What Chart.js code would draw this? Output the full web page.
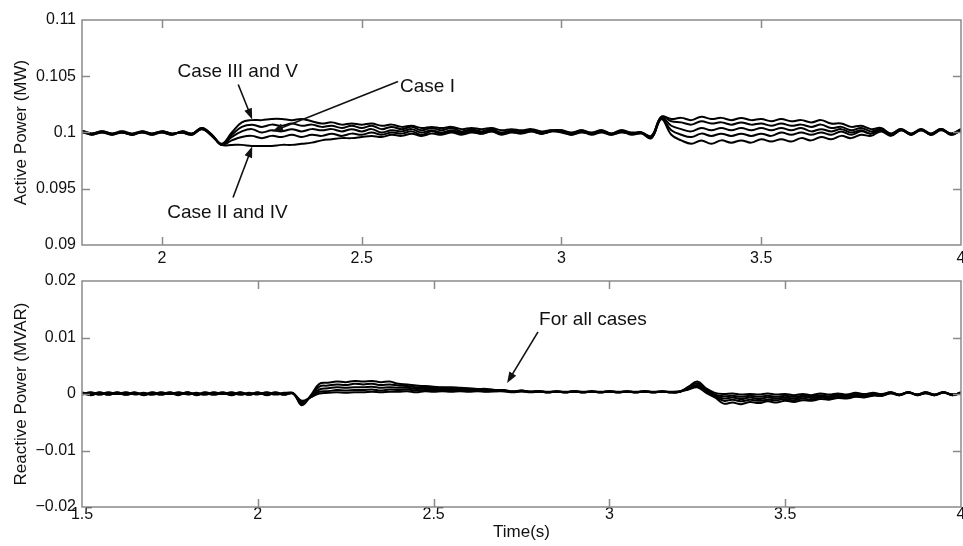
<!DOCTYPE html>
<html>
<head>
<meta charset="utf-8">
<script src="https://cdn.jsdelivr.net/npm/chart.js@4.4.1/dist/chart.umd.min.js"></script>
<style>
  html, body { margin: 0; padding: 0; background: #fff; }
  #wrap { position: relative; width: 963px; height: 546px; overflow: hidden; }
  canvas { position: absolute; left: 0; }
  #activeChart { top: 0; }
  #reactiveChart { top: 270px; }
</style>
</head>
<body>
<div id="wrap">
  <canvas id="activeChart" width="963" height="270"></canvas>
  <canvas id="reactiveChart" width="963" height="276"></canvas>
</div>
<script>
// sample times (s)
const time = [
  1.5,1.525,1.55,1.575,1.6,1.625,1.65,1.675,1.7,1.725,1.75,1.775,1.8,1.825,1.85,1.875,1.9,1.925,1.95,1.975,
  2,2.025,2.05,2.075,2.1,2.125,2.15,2.175,2.2,2.225,2.25,2.275,2.3,2.325,2.35,2.375,2.4,2.425,2.45,2.475,
  2.5,2.525,2.55,2.575,2.6,2.625,2.65,2.675,2.7,2.725,2.75,2.775,2.8,2.825,2.85,2.875,2.9,2.925,2.95,2.975,
  3,3.025,3.05,3.075,3.1,3.125,3.15,3.175,3.2,3.225,3.25,3.275,3.3,3.325,3.35,3.375,3.4,3.425,3.45,3.475,
  3.5,3.525,3.55,3.575,3.6,3.625,3.65,3.675,3.7,3.725,3.75,3.775,3.8,3.825,3.85,3.875,3.9,3.925,3.95,3.975,
  4
];

// active power (MW), one array per simulated case, top to bottom
const activeA = [
  0.1001,0.0999,0.1001,0.0999,0.1,0.0998,0.1001,0.0999,0.1001,0.0999,0.1,0.0998,0.1001,0.0999,0.1001,0.0998,0.1,0.0999,0.1001,0.0999,
  0.1001,0.0999,0.1,0.0999,0.1004,0.0998,0.099,0.1,0.1009,0.1011,0.1011,0.1012,0.1012,0.1011,0.1012,0.101,0.1008,0.1009,0.1007,0.1008,
  0.1007,0.1008,0.1006,0.1007,0.1005,0.1006,0.1004,0.1005,0.1004,0.1005,0.1003,0.1004,0.1003,0.1004,0.1002,0.1003,0.1002,0.1003,0.1001,0.1002,
  0.1002,0.1,0.1002,0.1,0.1002,0.0999,0.1002,0.1,0.1,0.0997,0.1014,0.1012,0.1013,0.1011,0.1014,0.1012,0.1013,0.1011,0.1013,0.1011,
  0.1012,0.101,0.1012,0.101,0.1011,0.1009,0.1011,0.1008,0.1008,0.1005,0.1006,0.1003,0.1004,0.0999,0.1003,0.0999,0.1003,0.0999,0.1003,0.0999,
  0.1003
];
const activeB = [
  0.1,0.0998,0.1,0.0998,0.1001,0.0999,0.1,0.0998,0.1,0.0998,0.1001,0.0999,0.1,0.0998,0.1,0.0999,0.1001,0.0998,0.1,0.0998,
  0.1,0.0998,0.1001,0.0999,0.1004,0.0998,0.0989,0.0998,0.1005,0.1007,0.1005,0.1007,0.1006,0.1008,0.1006,0.1007,0.1005,0.1006,0.1004,0.1006,
  0.1004,0.1006,0.1003,0.1005,0.1003,0.1005,0.1002,0.1004,0.1002,0.1004,0.1001,0.1003,0.1001,0.1003,0.1,0.1002,0.1001,0.1002,0.1,0.1002,
  0.1001,0.0999,0.1001,0.0999,0.1001,0.0999,0.1001,0.0999,0.1,0.0996,0.1014,0.101,0.1009,0.1007,0.101,0.1008,0.1009,0.1007,0.1009,0.1007,
  0.1008,0.1006,0.1008,0.1006,0.1007,0.1005,0.1007,0.1004,0.1005,0.1002,0.1004,0.1001,0.1003,0.0999,0.1003,0.0998,0.1003,0.0998,0.1003,0.0999,
  0.1002
];
const activeC = [
  0.1001,0.0998,0.1001,0.0998,0.1,0.0999,0.1001,0.0998,0.1001,0.0998,0.1,0.0999,0.1001,0.0998,0.1001,0.0999,0.1,0.0998,0.1001,0.0998,
  0.1001,0.0999,0.1,0.0998,0.1003,0.0998,0.0989,0.0996,0.1001,0.1003,0.1,0.1002,0.1001,0.1003,0.1001,0.1003,0.1002,0.1003,0.1001,0.1003,
  0.1001,0.1003,0.1,0.1002,0.1001,0.1003,0.1,0.1002,0.1,0.1002,0.1,0.1002,0.1,0.1002,0.0999,0.1001,0.1,0.1002,0.0999,0.1001,
  0.1002,0.0999,0.1002,0.0999,0.1002,0.0999,0.1002,0.0999,0.1,0.0996,0.1013,0.1006,0.1003,0.1001,0.1004,0.1002,0.1004,0.1002,0.1004,0.1002,
  0.1004,0.1002,0.1004,0.1002,0.1004,0.1001,0.1003,0.1001,0.1003,0.1,0.1002,0.0999,0.1003,0.0998,0.1002,0.0999,0.1002,0.0999,0.1003,0.0998,
  0.1002
];
const activeD = [
  0.1,0.0999,0.1,0.0999,0.1001,0.0998,0.1,0.0999,0.1,0.0999,0.1001,0.0998,0.1,0.0999,0.1,0.0998,0.1001,0.0999,0.1,0.0999,
  0.1,0.0998,0.1001,0.0999,0.1003,0.0997,0.0989,0.0993,0.0996,0.0997,0.0995,0.0997,0.0996,0.0998,0.0996,0.0998,0.0997,0.0999,0.0997,0.0999,
  0.0998,0.1,0.0998,0.1,0.0999,0.1001,0.0998,0.1001,0.0999,0.1001,0.0999,0.1001,0.0999,0.1001,0.0999,0.1001,0.1,0.1001,0.0999,0.1001,
  0.1,0.0998,0.1001,0.0998,0.1,0.0998,0.1001,0.0998,0.0999,0.0995,0.1012,0.1002,0.0998,0.0996,0.0999,0.0997,0.0999,0.0997,0.0999,0.0997,
  0.0999,0.0997,0.1,0.0998,0.1,0.0998,0.1,0.0998,0.1001,0.0998,0.1001,0.0999,0.1002,0.0998,0.1003,0.0998,0.1003,0.0998,0.1002,0.0999,
  0.1003
];
const activeE = [
  0.1001,0.0999,0.1001,0.0999,0.1,0.0998,0.1001,0.0999,0.1001,0.0999,0.1,0.0998,0.1001,0.0999,0.1001,0.0999,0.1,0.0998,0.1001,0.0999,
  0.1001,0.0999,0.1,0.0998,0.1003,0.0997,0.0989,0.0989,0.0989,0.0988,0.0988,0.0988,0.0989,0.0989,0.099,0.0991,0.0993,0.0994,0.0995,0.0995,
  0.0996,0.0997,0.0996,0.0998,0.0997,0.0999,0.0997,0.0999,0.0998,0.1,0.0998,0.1,0.0999,0.1001,0.0998,0.1,0.0999,0.1001,0.0999,0.1001,
  0.1001,0.0998,0.1,0.0999,0.1001,0.0998,0.1,0.0999,0.1,0.0995,0.1012,0.0998,0.0993,0.099,0.0993,0.099,0.0993,0.0991,0.0993,0.0991,
  0.0994,0.0992,0.0994,0.0992,0.0995,0.0993,0.0996,0.0994,0.0997,0.0995,0.0998,0.0997,0.1001,0.0997,0.1002,0.0998,0.1002,0.0998,0.1003,0.0998,
  0.1002
];

// reactive power (MVAR), one array per case
const reactA = [
  0.0003,-0.0001,0.0003,-0.0001,0.0003,-0.0001,0.0002,-0.0001,0.0003,0,0.0003,-0.0001,0.0003,-0.0001,0.0003,0,0.0003,-0.0001,0.0003,-0.0001,
  0.0002,-0.0001,0.0003,-0.0001,0.0002,-0.002,-0.0003,0.0018,0.002,0.0022,0.0021,0.0023,0.0022,0.0023,0.0021,0.0022,0.0018,0.0017,0.0015,0.0014,
  0.0013,0.0012,0.0012,0.0011,0.001,0.0009,0.0009,0.0007,0.0007,0.0005,0.0006,0.0004,0.0005,0.0003,0.0005,0.0003,0.0005,0.0003,0.0005,0.0003,
  0.0005,0.0003,0.0005,0.0003,0.0005,0.0003,0.0005,0.0003,0.0004,0.0013,0.0022,0.001,0.0002,0,0.0001,-0.0001,0,-0.0001,0.0001,-0.0001,
  0,-0.0002,0,-0.0002,0.0001,-0.0001,0.0001,-0.0001,0.0002,0,0.0002,0,0.0003,-0.0001,0.0003,-0.0001,0.0003,-0.0001,0.0003,-0.0001,
  0.0002
];
const reactB = [
  0.0002,-0.0002,0.0002,-0.0001,0.0002,-0.0001,0.0003,-0.0002,0.0002,-0.0001,0.0002,-0.0002,0.0003,-0.0002,0.0002,-0.0001,0.0002,-0.0002,0.0002,-0.0001,
  0.0003,-0.0002,0.0002,-0.0001,0.0001,-0.0018,-0.0004,0.0013,0.0015,0.0017,0.0016,0.0018,0.0017,0.0018,0.0016,0.0017,0.0015,0.0014,0.0012,0.0012,
  0.0011,0.0011,0.001,0.001,0.0009,0.0008,0.0008,0.0007,0.0006,0.0004,0.0006,0.0004,0.0004,0.0003,0.0005,0.0003,0.0004,0.0003,0.0005,0.0003,
  0.0004,0.0003,0.0005,0.0003,0.0004,0.0003,0.0005,0.0003,0.0004,0.0012,0.0019,0.0008,-0.0001,-0.0004,-0.0003,-0.0005,-0.0003,-0.0005,-0.0003,-0.0005,
  -0.0003,-0.0005,-0.0003,-0.0004,-0.0002,-0.0004,-0.0001,-0.0003,0,-0.0002,0.0001,-0.0001,0.0003,-0.0002,0.0003,-0.0001,0.0003,-0.0002,0.0003,-0.0001,
  0.0002
];
const reactC = [
  -0.0001,0.0003,-0.0001,0.0003,0,0.0003,-0.0001,0.0002,-0.0001,0.0003,0,0.0003,-0.0001,0.0002,-0.0001,0.0003,0,0.0003,-0.0001,0.0002,
  -0.0001,0.0003,0,0.0002,0.0001,-0.0016,-0.0005,0.0008,0.001,0.0012,0.0011,0.0012,0.0012,0.0013,0.0011,0.0012,0.0011,0.0011,0.0009,0.001,
  0.0009,0.0009,0.0008,0.0008,0.0007,0.0007,0.0006,0.0006,0.0006,0.0004,0.0005,0.0004,0.0005,0.0004,0.0004,0.0003,0.0005,0.0004,0.0004,0.0003,
  0.0005,0.0004,0.0004,0.0003,0.0005,0.0004,0.0004,0.0003,0.0004,0.001,0.0016,0.0006,-0.0003,-0.0008,-0.0006,-0.0009,-0.0006,-0.0009,-0.0006,-0.0008,
  -0.0006,-0.0008,-0.0005,-0.0007,-0.0004,-0.0006,-0.0003,-0.0005,-0.0002,-0.0004,-0.0001,-0.0002,0.0002,-0.0002,0.0003,-0.0002,0.0002,-0.0002,0.0003,-0.0002,
  0.0002
];
const reactD = [
  0.0001,-0.0001,0.0002,-0.0001,0.0002,-0.0001,0.0001,-0.0001,0.0001,-0.0001,0.0002,0,0.0002,-0.0001,0.0001,-0.0001,0.0001,0,0.0002,-0.0001,
  0.0002,-0.0001,0.0001,-0.0001,0.0001,-0.0014,-0.0006,0.0004,0.0005,0.0007,0.0006,0.0007,0.0007,0.0008,0.0006,0.0008,0.0007,0.0008,0.0006,0.0007,
  0.0007,0.0007,0.0006,0.0006,0.0006,0.0006,0.0005,0.0005,0.0005,0.0004,0.0005,0.0003,0.0004,0.0003,0.0004,0.0004,0.0004,0.0003,0.0004,0.0004,
  0.0004,0.0003,0.0004,0.0004,0.0004,0.0003,0.0004,0.0004,0.0005,0.0009,0.0014,0.0004,-0.0004,-0.0012,-0.001,-0.0013,-0.001,-0.0012,-0.001,-0.0011,
  -0.0009,-0.0011,-0.0008,-0.001,-0.0006,-0.0008,-0.0005,-0.0007,-0.0004,-0.0005,-0.0002,-0.0003,0.0002,-0.0001,0.0003,-0.0002,0.0002,-0.0001,0.0003,-0.0002,
  0.0003
];
const reactE = [
  0,0.0002,-0.0001,0.0002,0,0.0002,0,0.0001,-0.0001,0.0002,0,0.0002,0,0.0001,-0.0001,0.0002,0,0.0002,-0.0001,0.0001,
  0,0.0002,-0.0001,0.0001,0.0001,-0.0012,-0.0006,0.0001,0.0002,0.0003,0.0002,0.0003,0.0003,0.0004,0.0003,0.0004,0.0004,0.0005,0.0003,0.0005,
  0.0004,0.0005,0.0004,0.0005,0.0004,0.0005,0.0004,0.0005,0.0005,0.0003,0.0005,0.0004,0.0005,0.0003,0.0004,0.0003,0.0005,0.0003,0.0004,0.0003,
  0.0005,0.0003,0.0004,0.0003,0.0005,0.0003,0.0004,0.0003,0.0004,0.0008,0.0012,0.0002,-0.0006,-0.0017,-0.0015,-0.0018,-0.0014,-0.0016,-0.0013,-0.0015,
  -0.0012,-0.0014,-0.0011,-0.0012,-0.0009,-0.001,-0.0007,-0.0008,-0.0005,-0.0006,-0.0003,-0.0003,0.0001,-0.0002,0.0002,-0.0001,0.0001,-0.0002,0.0002,-0.0001,
  0.0001
];

// tick values
const activeXTicks = [2, 2.5, 3, 3.5, 4];
const activeYTicks = [0.09, 0.095, 0.1, 0.105, 0.11];
const reactXTicks = [1.5, 2, 2.5, 3, 3.5, 4];
const reactYTicks = [-0.02, -0.01, 0, 0.01, 0.02];

// text notes with arrows, placed in data units
const activeNotes = [
  { text: "Case III and V", tx: 2.19, ty: 0.10542, align: "center", fx: 2.191, fy: 0.10427, ax: 2.226, ay: 0.10116 },
  { text: "Case I", tx: 2.596, ty: 0.10409, align: "left", fx: 2.591, fy: 0.10453, ax: 2.276, ay: 0.10009 },
  { text: "Case II and IV", tx: 2.164, ty: 0.09289, align: "center", fx: 2.178, fy: 0.09422, ax: 2.226, ay: 0.09876 }
];
const reactNotes = [
  { text: "For all cases", tx: 2.8, ty: 0.0131, align: "left", fx: 2.797, fy: 0.011, ax: 2.709, ay: 0.00195 }
];

const FONT = '"Liberation Sans", Arial, Helvetica, sans-serif';
Chart.defaults.font.family = FONT;
Chart.defaults.color = "#111";

function toPoints(values) {
  return values.map((v, i) => ({ x: time[i], y: v }));
}

function lineSet(values) {
  return {
    data: toPoints(values),
    borderColor: "#000",
    borderWidth: 2,
    pointRadius: 0,
    tension: 0.4,
    fill: false
  };
}

function tickText(v) {
  return String(+v.toFixed(4)).replace("-", "\u2212");
}

function drawArrow(ctx, x1, y1, x2, y2) {
  const ang = Math.atan2(y2 - y1, x2 - x1);
  const len = 11, half = 4;
  ctx.lineWidth = 1.6;
  ctx.beginPath();
  ctx.moveTo(x1, y1);
  ctx.lineTo(x2 - Math.cos(ang) * len * 0.7, y2 - Math.sin(ang) * len * 0.7);
  ctx.stroke();
  ctx.beginPath();
  ctx.moveTo(x2, y2);
  ctx.lineTo(x2 - len * Math.cos(ang) + half * Math.sin(ang), y2 - len * Math.sin(ang) - half * Math.cos(ang));
  ctx.lineTo(x2 - len * Math.cos(ang) - half * Math.sin(ang), y2 - len * Math.sin(ang) + half * Math.cos(ang));
  ctx.closePath();
  ctx.fill();
}

// gray box with inward tick marks, like matlab axes
const framePlugin = {
  id: "frame",
  afterDatasetsDraw(chart) {
    const { ctx, chartArea: a, scales: { x, y } } = chart;
    ctx.save();
    ctx.strokeStyle = "#8a8a8a";
    ctx.lineWidth = 1.5;
    ctx.strokeRect(a.left, a.top, a.right - a.left, a.bottom - a.top);
    ctx.beginPath();
    x.ticks.forEach(t => {
      const px = Math.round(x.getPixelForValue(t.value)) + 0.5;
      if (px <= a.left + 2 || px >= a.right - 2) return;
      ctx.moveTo(px, a.bottom); ctx.lineTo(px, a.bottom - 8);
      ctx.moveTo(px, a.top); ctx.lineTo(px, a.top + 8);
    });
    y.ticks.forEach(t => {
      const py = Math.round(y.getPixelForValue(t.value)) + 0.5;
      if (py <= a.top + 2 || py >= a.bottom - 2) return;
      ctx.moveTo(a.left, py); ctx.lineTo(a.left + 8, py);
      ctx.moveTo(a.right, py); ctx.lineTo(a.right - 8, py);
    });
    ctx.stroke();
    ctx.restore();
  }
};

const notePlugin = {
  id: "notes",
  afterDraw(chart, args, opts) {
    const { ctx, scales: { x, y } } = chart;
    ctx.save();
    ctx.fillStyle = "#111";
    ctx.strokeStyle = "#111";
    ctx.font = "19px " + FONT;
    ctx.textBaseline = "middle";
    (opts.items || []).forEach(n => {
      ctx.textAlign = n.align;
      ctx.fillText(n.text, x.getPixelForValue(n.tx), y.getPixelForValue(n.ty));
      drawArrow(ctx, x.getPixelForValue(n.fx), y.getPixelForValue(n.fy),
        x.getPixelForValue(n.ax), y.getPixelForValue(n.ay));
    });
    ctx.restore();
  }
};

function makeChart(id, cfg) {
  let ctx = document.getElementById(id).getContext("2d");
  return new Chart(ctx, {
    type: "line",
    data: { datasets: cfg.series.map(lineSet) },
    options: {
      responsive: false,
      animation: false,
      events: [],
      layout: { padding: { top: cfg.padTop, right: 2, left: 0, bottom: 0 } },
      plugins: {
        legend: { display: false },
        tooltip: { enabled: false },
        notes: { items: cfg.notes }
      },
      scales: {
        x: {
          type: "linear",
          min: cfg.xMin,
          max: 4,
          afterBuildTicks: s => { s.ticks = cfg.xTicks.map(v => ({ value: v })); },
          afterFit: s => { s.height = cfg.xHeight; s.paddingLeft = 0; s.paddingRight = 0; },
          grid: { display: false, drawTicks: false },
          border: { display: false },
          ticks: {
            autoSkip: false,
            maxRotation: 0,
            padding: cfg.xPad,
            font: { size: 16, lineHeight: 1 },
            callback: v => tickText(v)
          },
          title: {
            display: !!cfg.xTitle,
            text: cfg.xTitle || "",
            font: { size: 17 },
            padding: { top: 0, bottom: 3 }
          }
        },
        y: {
          min: cfg.yMin,
          max: cfg.yMax,
          afterBuildTicks: s => { s.ticks = cfg.yTicks.map(v => ({ value: v })); },
          afterFit: s => { s.width = 82; s.paddingTop = 0; s.paddingBottom = 0; },
          grid: { display: false, drawTicks: false },
          border: { display: false },
          ticks: {
            padding: 6,
            font: { size: 16, lineHeight: 1 },
            callback: v => tickText(v)
          },
          title: {
            display: true,
            text: cfg.yTitle,
            font: { size: 17 },
            padding: { top: 11, bottom: 0 }
          }
        }
      }
    },
    plugins: [framePlugin, notePlugin]
  });
}

makeChart("activeChart", {
  series: [activeA, activeB, activeC, activeD, activeE],
  notes: activeNotes,
  xMin: 1.8, xTicks: activeXTicks, xHeight: 25, xPad: 6,
  yMin: 0.09, yMax: 0.11, yTicks: activeYTicks,
  yTitle: "Active Power (MW)",
  padTop: 20
});

makeChart("reactiveChart", {
  series: [reactA, reactB, reactC, reactD, reactE],
  notes: reactNotes,
  xMin: 1.5, xTicks: reactXTicks, xHeight: 39, xPad: 0, xTitle: "Time(s)",
  yMin: -0.02, yMax: 0.02, yTicks: reactYTicks,
  yTitle: "Reactive Power (MVAR)",
  padTop: 11
});
</script>
</body>
</html>
